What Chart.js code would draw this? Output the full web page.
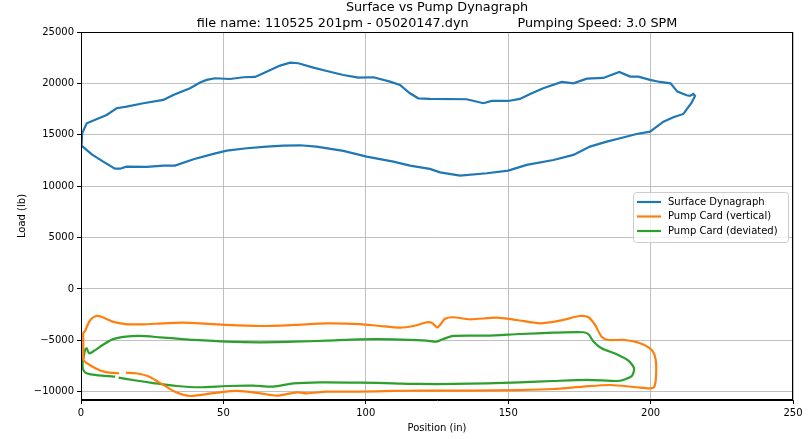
<!DOCTYPE html>
<html>
<head>
<meta charset="utf-8">
<script src="https://cdn.jsdelivr.net/npm/chart.js@4.4.1/dist/chart.umd.min.js"></script>
<style>
  html, body { margin: 0; padding: 0; background: #fff; }
  #wrap { width: 809px; height: 439px; position: relative; }
</style>
</head>
<body>
<div id="wrap"><canvas id="dynaChart"></canvas></div>
<script>
// surface dynagraph (position in, load lb)
const surfacePos = [0.2, 0.4, 2.0, 9.0, 12.5, 16.0, 21.9, 28.9, 32.4, 38.3, 41.8, 44.1, 47.1, 52.3, 57.0, 61.1, 64.0, 69.9, 73.4, 76.3,
    81.6, 86.3, 92.1, 97.4, 102.7, 108.5, 112.0, 115.5, 118.4, 122.5, 135.4, 141.3, 144.2, 150.0, 154.1, 157.7, 162.3, 168.8, 172.9, 177.6,
    183.4, 189.0, 192.8, 195.7, 199.8, 203.3, 207.0, 209.4, 212.7, 213.8, 215.0, 215.6, 214.4, 211.5, 208.0, 204.5, 199.8, 195.1, 189.3, 184.6,
    178.7, 172.9, 165.9, 156.5, 150.0, 142.5, 133.1, 126.1, 122.5, 115.5, 109.7, 100.3, 92.1, 82.7, 76.9, 71.0, 65.2, 58.2, 51.2, 46.5,
    39.5, 33.0, 28.9, 23.1, 16.0, 13.7, 11.9, 7.8, 3.8, 0.2];
const surfaceLoad = [13940, 15150, 16120, 16930, 17580, 17740, 18070, 18390, 18880, 19530, 20080, 20340, 20500, 20430, 20600, 20630, 20990, 21730, 22020, 21960,
    21530, 21210, 20820, 20560, 20600, 20170, 19850, 19040, 18550, 18490, 18460, 18070, 18290, 18290, 18490, 18970, 19530, 20140, 20010, 20460,
    20530, 21110, 20660, 20660, 20340, 20140, 20010, 19200, 18850, 18780, 18970, 18780, 18130, 17030, 16700, 16280, 15310, 15080, 14660, 14330,
    13850, 13040, 12550, 12070, 11510, 11260, 11020, 11350, 11680, 12000, 12390, 12870, 13430, 13850, 13980, 13940, 13850, 13690, 13460, 13140,
    12620, 12000, 12000, 11870, 11900, 11700, 11700, 12390, 13100, 13940];

// pump card, vertical well model (null = missing sample)
const verticalPos = [0.8, 0.8, 0.85, 1.5, 2.3, 3.5, 5.3, 7.6, 11.1, 15.8, 21.6, 28.7, 35.7, 41.8, 51.2, 62.9, 74.6, 86.3, 98.0, 105.0,
    112.0, 116.7, 121.4, 123.1, 125.2, 127.8, 130.7, 136.6, 146.0, 153.0, 161.2, 168.2, 175.2, 178.2, 180.5, 182.8, 185.2, 190.4, 196.3, 200.4,
    201.8, 201.9, 201.3, 199.8, 195.1, 185.7, 176.4, 165.9, 154.1, 136.6, 119.0, 109.7, 98.0, 86.3, 79.3, 75.8, 68.8, 62.9, 54.7, 47.7,
    38.3, 33.4, 28.7, 24.0, 19.3, 15.8, null, 13.4, 9.9, 7.0, 4.1, 1.76, 0.8];
const verticalLoad = [-6910, -5130, -4250, -4060, -3500, -2950, -2630, -2750, -3180, -3410, -3440, -3340, -3280, -3340, -3500, -3600, -3500, -3340, -3410, -3600,
    -3760, -3600, -3240, -3280, -3730, -2900, -2750, -2950, -2790, -3020, -3340, -3080, -2630, -2750, -3500, -4640, -4960, -4960, -5280, -5940,
    -6910, -8530, -9500, -9660, -9560, -9340, -9500, -9730, -9830, -9890, -9890, -9920, -9990, -9990, -10150, -10050, -10380, -10150, -9920, -10090,
    -10410, -10050, -9300, -8530, -8200, -8140, null, -8200, -8140, -7950, -7560, -7170, -6910];

// pump card, deviated well model
const deviatedPos = [0.6, 1.5, 2.0, 2.9, 4.7, 7.6, 11.1, 15.8, 20.5, 27.7, 35.7, 39.5, 51.2, 62.9, 74.6, 86.3, 98.0, 109.7, 121.4, 124.9,
    127.2, 130.7, 142.5, 154.1, 165.9, 176.4, 178.2, 180.0, 182.8, 188.1, 192.2, 194.2, 193.4, 190.4, 188.1, 177.6, 165.9, 154.1, 142.5, 130.7,
    119.0, 109.7, 98.0, 83.9, 74.6, 67.5, 60.5, 51.2, 41.8, 33.6, 25.4, 19.3, 13.2, null, 12.0, 7.6, 3.5, 1.5, 0.6, 0.6];
const deviatedLoad = [-7070, -5870, -5770, -6260, -6000, -5450, -4900, -4640, -4570, -4700, -4870, -4960, -5130, -5190, -5130, -5030, -4900, -4900, -5030, -5130,
    -4870, -4570, -4540, -4380, -4250, -4210, -4410, -5130, -5770, -6350, -6970, -7720, -8470, -8850, -8950, -8850, -8950, -9080, -9180, -9240,
    -9240, -9180, -9110, -9080, -9180, -9500, -9410, -9440, -9560, -9440, -9150, -8900, -8630, null, -8530, -8430, -8300, -8140, -7720, -7070];

const xTicks = [0, 50, 100, 150, 200, 250];
const yTicks = [-10000, -5000, 0, 5000, 10000, 15000, 20000, 25000];

const seriesLabels = ['Surface Dynagraph', 'Pump Card (vertical)', 'Pump Card (deviated)'];
const seriesColors = ['#1f77b4', '#ff7f0e', '#2ca02c'];
const titleLines = ['Surface vs Pump Dynagraph',
    'file name: 110525 201pm - 05020147.dyn            Pumping Speed: 3.0 SPM'];

function toPoints(xs, ys) {
    return xs.map((x, i) => (x === null ? { x: null, y: null } : { x: x, y: ys[i] }));
}

function fmtTick(value) {
    return value < 0 ? '\u2212' + Math.abs(value) : String(value);
}

const FONT = 'DejaVu Sans';
Chart.defaults.color = '#000';
Chart.defaults.font.family = FONT;

// title centred over the axes, frame on top/right, legend inside plot
const decorPlugin = {
    id: 'decor',
    afterDraw(chart) {
        const { ctx, chartArea } = chart;
        ctx.save();
        ctx.strokeStyle = '#000';
        ctx.lineWidth = 1;
        ctx.strokeRect(chartArea.left + 0.5, chartArea.top + 0.5,
            chartArea.right - chartArea.left - 1, chartArea.bottom - chartArea.top - 1);

        const cx = (chartArea.left + chartArea.right) / 2;
        ctx.fillStyle = '#000';
        ctx.font = '12.8px ' + FONT;
        ctx.textAlign = 'center';
        ctx.textBaseline = 'middle';
        titleLines.forEach((t, i) => ctx.fillText(t, cx, 7.5 + i * 16));

        const bx = chartArea.right - 160, by = chartArea.top + 160;
        const bw = 155, bh = 50;
        ctx.beginPath();
        ctx.roundRect(bx + 0.5, by + 0.5, bw, bh, 3);
        ctx.fillStyle = 'rgba(255,255,255,0.8)';
        ctx.fill();
        ctx.strokeStyle = '#cccccc';
        ctx.stroke();

        ctx.font = '10px ' + FONT;
        ctx.textAlign = 'left';
        ctx.fillStyle = '#000';
        chart.data.datasets.forEach((ds, i) => {
            const ry = by + 10 + i * 14.5;
            ctx.beginPath();
            ctx.strokeStyle = ds.borderColor;
            ctx.lineWidth = 2.2;
            ctx.moveTo(bx + 4, ry);
            ctx.lineTo(bx + 28, ry);
            ctx.stroke();
            ctx.fillText(ds.label, bx + 35, ry);
        });
        ctx.restore();
    }
};

const ctx = document.getElementById('dynaChart').getContext('2d');
new Chart(ctx, {
    type: 'scatter',
    data: {
        datasets: [
            { label: seriesLabels[0], data: toPoints(surfacePos, surfaceLoad), borderColor: seriesColors[0], tension: 0 },
            { label: seriesLabels[1], data: toPoints(verticalPos, verticalLoad), borderColor: seriesColors[1], tension: 0.25 },
            { label: seriesLabels[2], data: toPoints(deviatedPos, deviatedLoad), borderColor: seriesColors[2], tension: 0.25 }
        ].map(ds => Object.assign(ds, {
            showLine: true,
            spanGaps: false,
            pointRadius: 0,
            pointHoverRadius: 0,
            borderWidth: 2.2,
            backgroundColor: ds.borderColor,
            fill: false
        }))
    },
    options: {
        responsive: true,
        maintainAspectRatio: false,
        animation: false,
        layout: { padding: { left: 0, right: 16, top: 32, bottom: 0 } },
        plugins: {
            legend: { display: false },
            tooltip: { enabled: false },
            title: { display: false }
        },
        scales: {
            x: {
                type: 'linear',
                min: 0,
                max: 250,
                afterBuildTicks: scale => { scale.ticks = xTicks.map(v => ({ value: v })); },
                afterFit: scale => { scale.height = 39; },
                ticks: { font: { size: 10 }, padding: 3, maxRotation: 0, callback: fmtTick },
                grid: { color: '#b0b0b0', lineWidth: 0.8, tickColor: '#000', tickLength: 4, tickWidth: 1 },
                border: { color: '#000', width: 1 },
                title: { display: true, text: 'Position (in)', font: { size: 10 }, padding: { top: 0, bottom: 5 } }
            },
            y: {
                type: 'linear',
                min: -10800,
                max: 25000,
                afterBuildTicks: scale => { scale.ticks = yTicks.map(v => ({ value: v })); },
                afterFit: scale => { scale.width = 81; },
                ticks: { font: { size: 10 }, padding: 3, callback: fmtTick },
                grid: { color: '#b0b0b0', lineWidth: 0.8, tickColor: '#000', tickLength: 4, tickWidth: 1 },
                border: { color: '#000', width: 1 },
                title: { display: true, text: 'Load (lb)', font: { size: 10 }, padding: { top: 16, bottom: 0 } }
            }
        }
    },
    plugins: [decorPlugin]
});
</script>
</body>
</html>
